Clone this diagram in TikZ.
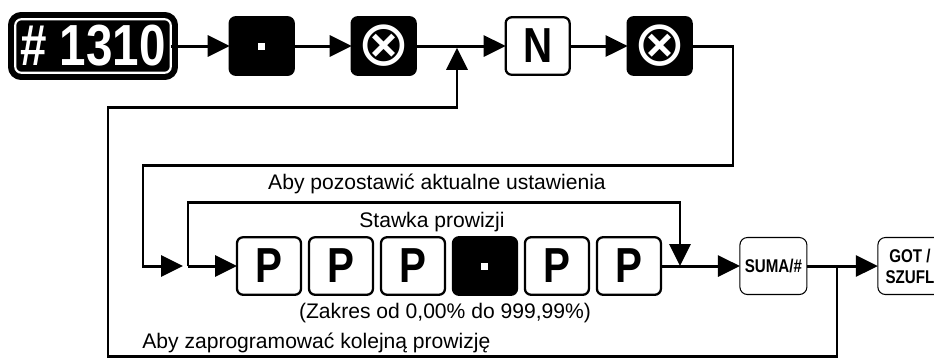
\documentclass[tikz,border=0pt]{standalone}
\usepackage{fontspec}
\setmainfont{Liberation Sans}
\newfontfamily\keyfont[FakeStretch=0.82]{Liberation Sans}
\newfontfamily\symfont{DejaVu Sans}
\usetikzlibrary{arrows.meta,positioning}

\begin{document}
\begin{tikzpicture}[x=0.02cm, y=-0.02cm, node distance=0.16cm, >={Triangle[length=0.44cm,width=0.42cm]}]
    \tikzstyle{key} = [rectangle, draw=black, line width=1.3pt, fill=white, rounded corners=0.12cm, minimum width=1.28cm, minimum height=1.15cm, inner sep=0pt, outer sep=0pt, font=\keyfont\bfseries\fontsize{28}{28}\selectfont]
    \tikzstyle{blackkey} = [key, fill=black, text=white]
    \tikzstyle{fnkey} = [rectangle, draw=black, line width=0.6pt, rounded corners=0.15cm, minimum width=1.34cm, minimum height=1.14cm, inner sep=0pt, outer sep=0pt, align=center, font=\keyfont\bfseries\fontsize{10.5}{12}\selectfont]
    \tikzstyle{cross} = [font=\symfont\fontsize{36}{36}\selectfont]
    \tikzstyle{arrow} = [draw, ->, line width=1.7pt]
    \tikzstyle{note} = [font=\fontsize{12}{14}\selectfont, inner sep=0pt]

    \useasboundingbox (0,0) rectangle (934,360);

    % Nodes
    \node [rectangle, fill=black, draw=black, line width=3.5pt, double=white, double distance=1.2pt, rounded corners=0.12cm, minimum width=3.11cm, minimum height=1.07cm, inner sep=0pt, outer sep=0pt, text=white, font=\keyfont\bfseries\fontsize{33}{33}\selectfont] (hash) at (93,46) {\# 1310};
    \node [blackkey, right=1.18cm of hash] (dot1) {\rule{0.14cm}{0.14cm}};
    \node [blackkey, cross, right=1.16cm of dot1] (x1) {⊗};
    \node [key, right=1.8cm of x1] (n) {N};
    \node [blackkey, cross, right=1.16cm of n] (x2) {⊗};

    \node [key] (p1) at (269,266) {P};
    \node [key, right=of p1] (p2) {P};
    \node [key, right=of p2] (p3) {P};
    \node [blackkey, right=of p3] (dot2) {\rule{0.14cm}{0.14cm}};
    \node [key, right=of dot2] (p4) {P};
    \node [key, right=of p4] (p5) {P};
    \node [fnkey, right=1.58cm of p5] (suma) {SUMA/\#};
    \node [fnkey, right=1.42cm of suma, minimum width=1.28cm] (got) {GOT /\\SZUFL};

    % Labels
    \node [note] (keep) at (437,184) {Aby pozostawić aktualne ustawienia};
    \node [note] (rate) at (432,222) {Stawka prowizji};
    \node [note] (range) at (445,313) {(Zakres od 0,00\% do 999,99\%)};
    \node [note, anchor=west] (again) at (142,343) {Aby zaprogramować kolejną prowizję};

    % Junctions
    \coordinate (j1) at (188,266);
    \coordinate (j2) at (680,266);
    \coordinate (j3) at (837,266);
    \coordinate (j4) at (457,46);

    % Edges
    \draw [arrow] (hash) -- (dot1);
    \draw [arrow] (dot1) -- (x1);
    \draw [arrow] (x1) -- (n);
    \draw [arrow] (n) -- (x2);
    \draw [arrow, shorten >=0.1cm] (x2.east) -| (733,165) -| (143,266) -- (j1);
    \draw [arrow] (j1) -- (p1);
    \draw [arrow] (j1) -- ++(0,-64) -| (j2);
    \draw [arrow] (p5) -- (suma);
    \draw [arrow] (suma) -- (got);

    % Loop for the next commission
    \draw [arrow, shorten >=1pt] (j3) |- (108,356) |- (457,107) -- (j4);
\end{tikzpicture}
\end{document}
